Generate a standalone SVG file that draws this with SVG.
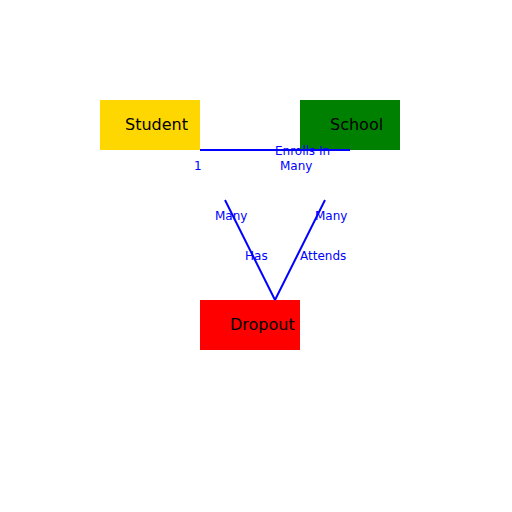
<svg xmlns="http://www.w3.org/2000/svg" width="512" height="512" viewBox="0 0 512 512">
<style>
.node text{font-family:"DejaVu Sans",sans-serif;font-size:16px;fill:#000}
.conn line{stroke:#0000ff;stroke-width:2}
.conn text{font-family:"DejaVu Sans",sans-serif;font-size:12px;fill:#0000ff}
</style>
<rect width="512" height="512" fill="#fff"/>
<g id="student" class="node"><rect x="100" y="100" width="100" height="50" fill="#ffd700"/><text x="125" y="130">Student</text></g>
<g id="school" class="node"><rect x="300" y="100" width="100" height="50" fill="#008000"/><text x="330" y="130">School</text></g>
<g id="dropout" class="node"><rect x="200" y="300" width="100" height="50" fill="#ff0000"/><text x="230" y="330">Dropout</text></g>
<g id="connectors" class="conn">
<line x1="200" y1="150" x2="350" y2="150"/>
<line x1="225" y1="200" x2="275" y2="300"/>
<line x1="325" y1="200" x2="275" y2="300"/>
<text x="194" y="170">1</text>
<text x="275" y="155">Enrolls In</text>
<text x="280" y="170">Many</text>
<text x="215" y="220">Many</text>
<text x="245" y="260">Has</text>
<text x="315" y="220">Many</text>
<text x="300" y="260">Attends</text>
</g>
</svg>
